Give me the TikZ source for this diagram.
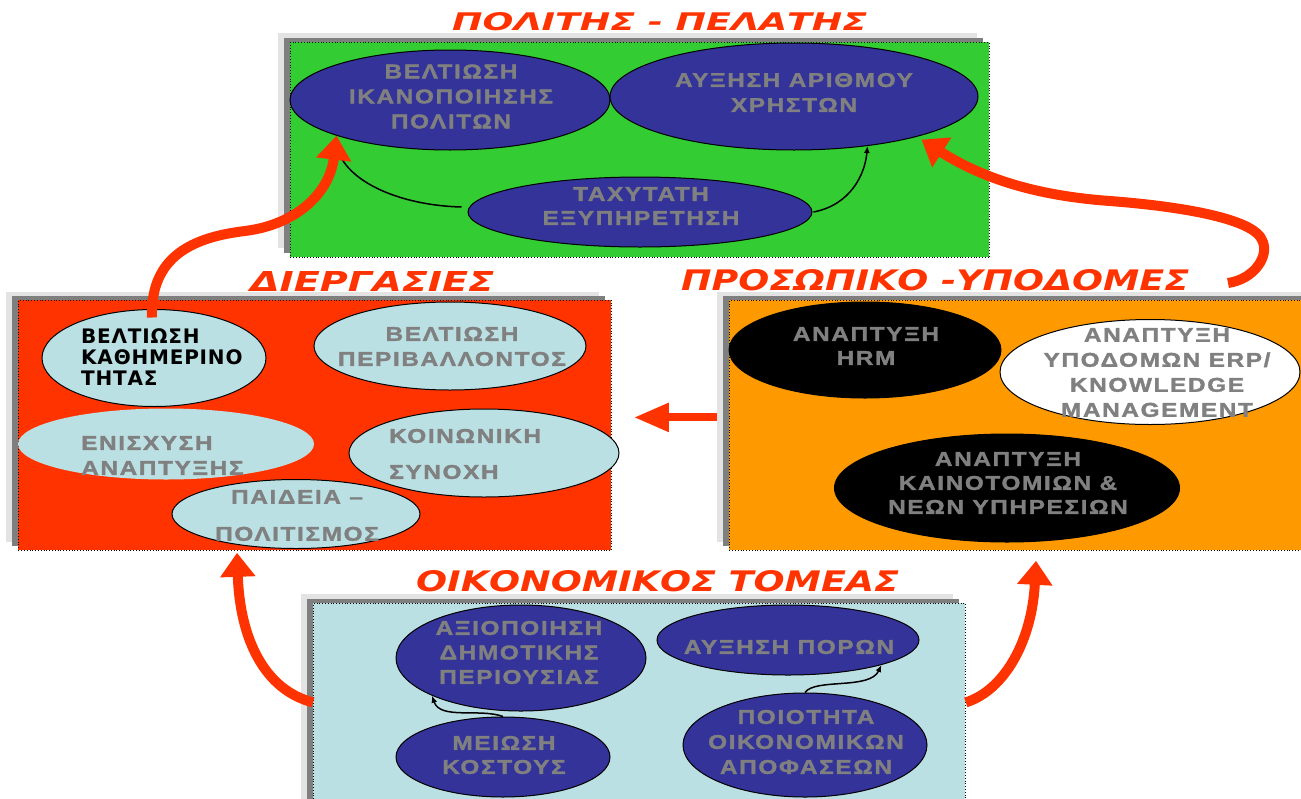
\documentclass[tikz,border=0pt]{standalone}
\usepackage{fontspec}
\usetikzlibrary{arrows.meta,shapes.geometric}
\newfontfamily\elfont{Liberation Sans Bold}[FakeStretch=1.22, LetterSpace=8, FakeBold=1.6]
\newfontfamily\blkfont{DejaVu Sans Bold}[LetterSpace=4]
\newfontfamily\ttlfont{DejaVu Sans}
\definecolor{leafgreen}{HTML}{33CC33}
\definecolor{brickred}{HTML}{FF3300}
\definecolor{amber}{HTML}{FF9900}
\definecolor{paleteal}{HTML}{BBE0E3}
\definecolor{navy}{HTML}{333399}
\definecolor{textgray}{HTML}{808080}
\definecolor{shadelight}{HTML}{E3E3E3}
\definecolor{shadedark}{HTML}{7F7F7F}
\tikzset{
  panel/.style={draw=black, dotted, line width=0.8pt, inner sep=0pt, anchor=north west},
  oval/.style={ellipse, draw=black, line width=1pt, inner sep=0pt},
  navyoval/.style={oval, fill=navy},
  paleoval/.style={oval, fill=paleteal},
  gtext/.style={inner sep=0pt, text=textgray, align=center,
    font=\elfont\fontsize{20}{#1}\selectfont},
  gtext/.default=25,
  heading/.style={inner sep=0pt, anchor=base west, text=brickred,
    font=\ttlfont\bfseries\itshape\fontsize{25}{30}\selectfont},
  bigarrow/.style={draw=brickred, line width=10pt,
    -{Triangle[length=24pt,width=34pt]}},
  thinarrow/.style={draw=black, line width=1.5pt,
    -{Latex[length=7pt,width=6pt]}},
}
\begin{document}
\begin{tikzpicture}[x=1pt,y=-1pt]
\useasboundingbox (0,0) rectangle (1301,798);
\clip (0,0) rectangle (1301,798);
\fill[white] (0,0) rectangle (1301,798);

% ---------- panels with their stepped shadows ----------
\fill[shadelight] (278,33) rectangle ++(699,215);
\fill[shadedark]  (284,38) rectangle ++(699,215);
\node[panel, fill=leafgreen, minimum width=699pt, minimum height=215pt] (citizen) at (290,42) {};

\fill[shadelight] (6,292) rectangle ++(593,250);
\fill[shadedark]  (12,296) rectangle ++(593,250);
\node[panel, fill=brickred, minimum width=593pt, minimum height=250pt] (process) at (18,300) {};

\fill[shadelight] (717,292) rectangle ++(600,250);
\fill[shadedark]  (723,296) rectangle ++(600,250);
\node[panel, fill=amber, minimum width=600pt, minimum height=250pt] (staff) at (729,300) {};

\fill[shadelight] (301,594) rectangle ++(652,220);
\fill[shadedark]  (307,599) rectangle ++(652,220);
\node[panel, fill=paleteal, minimum width=652pt, minimum height=198pt] (finance) at (313,603) {};

% ---------- citizen / customer ----------
\node[navyoval, minimum width=320pt, minimum height=100pt] (e1) at (450,100) {};
\node[gtext] (t-sat) at (451,96.5) {ΒΕΛΤΙΩΣΗ\\ΙΚΑΝΟΠΟΙΗΣΗΣ\\ΠΟΛΙΤΩΝ};
\node[navyoval, minimum width=368pt, minimum height=107pt] (e2) at (794,96.5) {};
\node[gtext] (t-users) at (794,92.5) {ΑΥΞΗΣΗ ΑΡΙΘΜΟΥ\\ΧΡΗΣΤΩΝ};
\node[navyoval, minimum width=344pt, minimum height=70pt] (e3) at (640,212) {};
\node[gtext=24] (t-fast) at (641,206) {ΤΑΧΥΤΑΤΗ\\ΕΞΥΠΗΡΕΤΗΣΗ};

\draw[thinarrow] ([shift={(-6,-5)}]e3.west) .. controls (390,205) and (338,175) .. (e1.south west);
\draw[thinarrow] ([shift={(1,0)}]e3.east) .. controls (850,205) and (865,175) .. (e2.-34);

% ---------- processes ----------
\node[paleoval, minimum width=224pt, minimum height=97pt] (k1) at (154,358) {};
\node[inner sep=0pt, anchor=west, align=left, text=black,
      font=\blkfont\fontsize{20}{21}\selectfont] (t-daily) at (81,357) {ΒΕΛΤΙΩΣΗ\\ΚΑΘΗΜΕΡΙΝΟ\\ΤΗΤΑΣ};
\node[paleoval, minimum width=272pt, minimum height=88pt] (k2) at (450,346) {};
\node[gtext] (t-env) at (452,346.5) {ΒΕΛΤΙΩΣΗ\\ΠΕΡΙΒΑΛΛΟΝΤΟΣ};
\node[paleoval, draw=none, minimum width=296pt, minimum height=71pt] (k3) at (166,444) {};
\node[gtext, anchor=west, align=left] (t-growth) at (81,455.5) {ΕΝΙΣΧΥΣΗ\\ΑΝΑΠΤΥΞΗΣ};
\node[paleoval, minimum width=270pt, minimum height=88pt] (k4) at (484,453) {};
\node[gtext=36, anchor=west, align=left] (t-social) at (389,454) {ΚΟΙΝΩΝΙΚΗ\\ΣΥΝΟΧΗ};
\node[paleoval, minimum width=248pt, minimum height=69pt] (k5) at (296,514) {};
\node[gtext=37] (t-culture) at (297,515.5) {ΠΑΙΔΕΙΑ –\\ΠΟΛΙΤΙΣΜΟΣ};

% ---------- staff / infrastructure ----------
\node[oval, fill=black, minimum width=272pt, minimum height=96pt] (r1) at (865,350) {};
\node[gtext=24] (t-hrm) at (866,346) {ΑΝΑΠΤΥΞΗ\\HRM};
\node[oval, fill=white, minimum width=300pt, minimum height=105pt] (r2) at (1150,372) {};
\node[gtext] (t-erp) at (1157,372.5) {ΑΝΑΠΤΥΞΗ\\ΥΠΟΔΟΜΩΝ ERP/\\KNOWLEDGE\\MANAGEMENT};
\node[oval, fill=black, minimum width=345pt, minimum height=108pt] (r3) at (1007,488) {};
\node[gtext=24] (t-innov) at (1008,483) {ΑΝΑΠΤΥΞΗ\\ΚΑΙΝΟΤΟΜΙΩΝ \&\\ΝΕΩΝ ΥΠΗΡΕΣΙΩΝ};

% ---------- finance ----------
\node[navyoval, minimum width=250pt, minimum height=106pt] (b1) at (521,658) {};
\node[gtext=24.5] (t-assets) at (519,652.5) {ΑΞΙΟΠΟΙΗΣΗ\\ΔΗΜΟΤΙΚΗΣ\\ΠΕΡΙΟΥΣΙΑΣ};
\node[navyoval, minimum width=262pt, minimum height=70pt] (b2) at (788,640) {};
\node[gtext] (t-res) at (789,647) {ΑΥΞΗΣΗ ΠΟΡΩΝ};
\node[navyoval, minimum width=214pt, minimum height=80pt] (b3) at (503,757) {};
\node[gtext=24] (t-cost) at (504,755) {ΜΕΙΩΣΗ\\ΚΟΣΤΟΥΣ};
\node[navyoval, minimum width=244pt, minimum height=104pt] (b4) at (805,745) {};
\node[gtext] (t-dec) at (806,742) {ΠΟΙΟΤΗΤΑ\\ΟΙΚΟΝΟΜΙΚΩΝ\\ΑΠΟΦΑΣΕΩΝ};

\draw[thinarrow] (b3.north) .. controls (480,708) and (440,720) .. (b1.203);
\draw[thinarrow] (b4.north) .. controls (815,678) and (870,690) .. (b2.-15);

% ---------- headings ----------
\node[heading] (h-citizen) at (452,30) {\resizebox{415pt}{18pt}{ΠΟΛΙΤΗΣ - ΠΕΛΑΤΗΣ}};
\node[heading] (h-process) at (250,291) {\resizebox{244pt}{20pt}{ΔΙΕΡΓΑΣΙΕΣ}};
\node[heading] (h-staff) at (681,290) {\resizebox{508pt}{21pt}{ΠΡΟΣΩΠΙΚΟ -ΥΠΟΔΟΜΕΣ}};
\node[heading] (h-finance) at (416,591) {\resizebox{483pt}{21pt}{ΟΙΚΟΝΟΜΙΚΟΣ ΤΟΜΕΑΣ}};

% ---------- flows between the four areas ----------
\draw[bigarrow] ([shift={(-2,8.5)}]k1.north) .. controls (150,255) and (195,237) .. (245,231)
   .. controls (300,224) and (330,190) .. (e1.south west);
\draw[bigarrow] ([shift={(499,-17)}]staff.north west) .. controls (1255,279) and (1270,255) .. (1262,240)
   .. controls (1255,222) and (1200,208) .. (1110,201)
   .. controls (1040,196) and (985,180) .. ([shift={(8,2)}]e2.-19);
\draw[bigarrow] (finance.west) .. controls (265,690) and (240,640) .. ([shift={(219,2)}]process.south west);
\draw[bigarrow] (finance.east) .. controls (1005,690) and (1032,640) .. ([shift={(307,10)}]staff.south west);
\draw[draw=brickred, line width=8pt, -{Triangle[length=35pt,width=27pt]}]
   ([shift={(-12,-8)}]staff.west) -- ([shift={(22,-8)}]process.east);
\end{tikzpicture}
\end{document}
